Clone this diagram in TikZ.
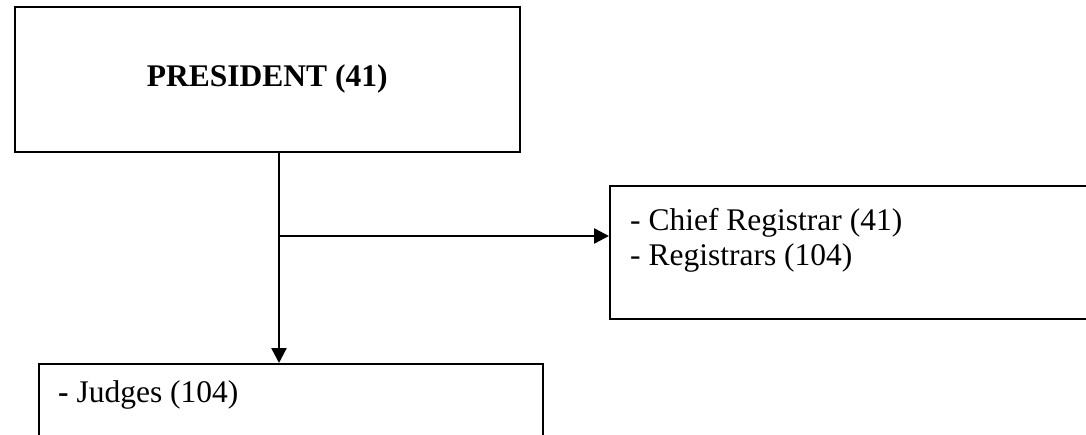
\documentclass[tikz,border=0pt]{standalone}
\usepackage{fontspec}
\setmainfont{Liberation Serif}
\usetikzlibrary{positioning,arrows.meta}

\begin{document}
\begin{tikzpicture}[x=1pt,y=1pt,
    box/.style={rectangle, draw, line width=1.6pt, inner sep=0pt},
    txt/.style={font=\fontsize{31.5}{36}\selectfont, inner sep=0pt, align=left},
    conn/.style={line width=2.4pt, -{Triangle[length=15pt,width=15pt]}}]
\useasboundingbox (0,0) rectangle (1086,-435);
\clip (0,0) rectangle (1086,-435);
%% Nodes definition
\node[box, minimum width=505pt, minimum height=145pt, anchor=north west] (president) at (14,-6) {};
\node[txt, font=\fontsize{31.5}{36}\selectfont\bfseries] (president_text) at (president.center) {PRESIDENT (41)};
\node[box, minimum width=560pt, minimum height=133pt, anchor=north west] (registrars) at (609,-185) {};
\node[txt, anchor=base west] (chief_text) at (630,-231) {- Chief Registrar (41)};
\node[txt, anchor=base west, below=10pt of chief_text.base west, anchor=base west, yshift=-25pt] (reg_text) {- Registrars (104)};
\node[box, minimum width=504pt, minimum height=140pt, anchor=north west] (judges) at (38,-363) {};
\node[txt, anchor=base west] (judges_text) at (58,-402) {\textbf{-} Judges (104)};
\coordinate (split) at (279,-236);

%% Edges definition
\draw[conn] (split |- president.south) -- (split |- judges.north);
\draw[conn] (split) -- (split -| registrars.west);
\end{tikzpicture}
\end{document}
